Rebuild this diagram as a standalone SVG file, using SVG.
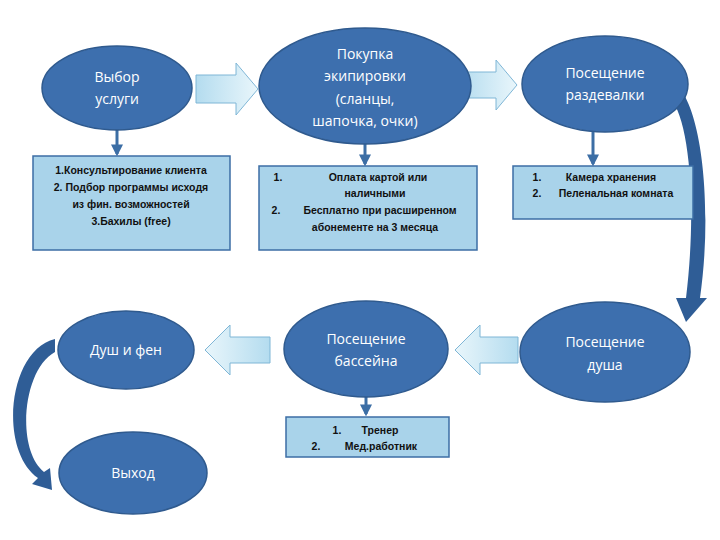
<svg xmlns="http://www.w3.org/2000/svg" width="720" height="540" viewBox="0 0 720 540">
<defs>
<linearGradient id="ga" x1="0" y1="0" x2="1" y2="0"><stop offset="0" stop-color="#b4dcef"/><stop offset="1" stop-color="#e9f6fb"/></linearGradient>
<linearGradient id="gb" x1="1" y1="0" x2="0" y2="0"><stop offset="0" stop-color="#b4dcef"/><stop offset="1" stop-color="#e9f6fb"/></linearGradient>
<marker id="ah" viewBox="0 0 10 10" refX="8" refY="5" markerWidth="4" markerHeight="4" orient="auto"><path d="M0,0 L10,5 L0,10 Z" fill="#3c6ea5"/></marker>
</defs>
<style>
.el{fill:#3d6fae;stroke:#2f5a8e;stroke-width:1.5}
.et{fill:#fff;font-family:"Open Sans","Liberation Sans",sans-serif;font-size:14px;text-anchor:middle}
.bx{fill:#a9d3ea;stroke:#3c6ea5;stroke-width:1.5}
.bt{fill:#111;font-family:"Liberation Sans",sans-serif;font-size:10.5px;font-weight:bold;text-anchor:middle}
.ln{stroke:#3c6ea5;stroke-width:3;fill:none;marker-end:url(#ah)}
.ba{stroke:#7fb6d6;stroke-width:1}
.cv{fill:#2f5d96}
</style>
<rect width="720" height="540" fill="#fff"/>
<g id="connectors">
<line class="ln" x1="117" y1="129" x2="117" y2="154"/>
<line class="ln" x1="365" y1="143" x2="365" y2="164"/>
<line class="ln" x1="593" y1="130" x2="593" y2="164"/>
<line class="ln" x1="366" y1="388" x2="366" y2="414"/>
<path class="ba" fill="url(#ga)" d="M196,75 L236,75 L236,63 L258,89 L236,115 L236,103 L196,103 Z"/>
<path class="ba" fill="url(#ga)" d="M460,72 L496,72 L496,60 L517,85 L496,110 L496,98 L460,98 Z"/>
<path class="ba" fill="url(#gb)" d="M270,337 L230,337 L230,325 L205,350 L230,375 L230,363 L270,363 Z"/>
<path class="ba" fill="url(#gb)" d="M518,337 L480,337 L480,325 L455,350 L480,375 L480,363 L518,363 Z"/>
<path class="cv" d="M668,80 C700,88 714,200 700,298 L707,298 L686,322 L676,298 L686,298 C698,200 688,110 668,97 Z"/>
<path class="cv" d="M55,339 C8,350 -2,450 38,478 L32,484 L52,490 L50,468 L44,472 C16,450 22,370 55,352 Z"/>
</g>
<g id="n1"><ellipse class="el" cx="117" cy="88" rx="75" ry="42"/><text class="et" x="117" y="82">Выбор</text><text class="et" x="117" y="104">услуги</text></g>
<g id="n2"><ellipse class="el" cx="365" cy="86" rx="106" ry="58"/><text class="et" x="365" y="59">Покупка</text><text class="et" x="365" y="81">экипировки</text><text class="et" x="365" y="104">(сланцы,</text><text class="et" x="365" y="126">шапочка, очки)</text></g>
<g id="n3"><ellipse class="el" cx="605" cy="84" rx="83" ry="48"/><text class="et" x="605" y="78">Посещение</text><text class="et" x="605" y="100">раздевалки</text></g>
<g id="n4"><ellipse class="el" cx="605" cy="352" rx="85" ry="50"/><text class="et" x="605" y="347">Посещение</text><text class="et" x="605" y="370">душа</text></g>
<g id="n5"><ellipse class="el" cx="366" cy="349" rx="82" ry="48"/><text class="et" x="366" y="344">Посещение</text><text class="et" x="366" y="366">бассейна</text></g>
<g id="n6"><ellipse class="el" cx="126" cy="350" rx="68" ry="39"/><text class="et" x="126" y="355">Душ и фен</text></g>
<g id="n7"><ellipse class="el" cx="133" cy="473" rx="74" ry="41"/><text class="et" x="133" y="478">Выход</text></g>
<g id="b1"><rect class="bx" x="33" y="156" width="197" height="94"/><text class="bt" x="131" y="174">1.Консультирование клиента</text><text class="bt" x="131" y="191">2. Подбор программы исходя</text><text class="bt" x="131" y="208">из фин. возможностей</text><text class="bt" x="131" y="225">3.Бахилы (free)</text></g>
<g id="b2"><rect class="bx" x="259" y="166" width="218" height="84"/><text class="bt" x="375" y="181"><tspan x="278">1.</tspan><tspan x="378">Оплата картой или</tspan></text><text class="bt" x="375" y="197">наличными</text><text class="bt" x="375" y="214"><tspan x="276">2.</tspan><tspan x="380">Бесплатно при расширенном</tspan></text><text class="bt" x="375" y="231">абонементе на 3 месяца</text></g>
<g id="b3"><rect class="bx" x="513" y="166" width="180" height="53"/><text class="bt" x="600" y="181"><tspan x="537">1.</tspan><tspan x="611">Камера хранения</tspan></text><text class="bt" x="600" y="197"><tspan x="537">2.</tspan><tspan x="616">Пеленальная комната</tspan></text></g>
<g id="b4"><rect class="bx" x="286" y="417" width="163" height="40"/><text class="bt" x="366" y="434"><tspan x="337">1.</tspan><tspan x="380">Тренер</tspan></text><text class="bt" x="366" y="450"><tspan x="316">2.</tspan><tspan x="381">Мед.работник</tspan></text></g>
</svg>
